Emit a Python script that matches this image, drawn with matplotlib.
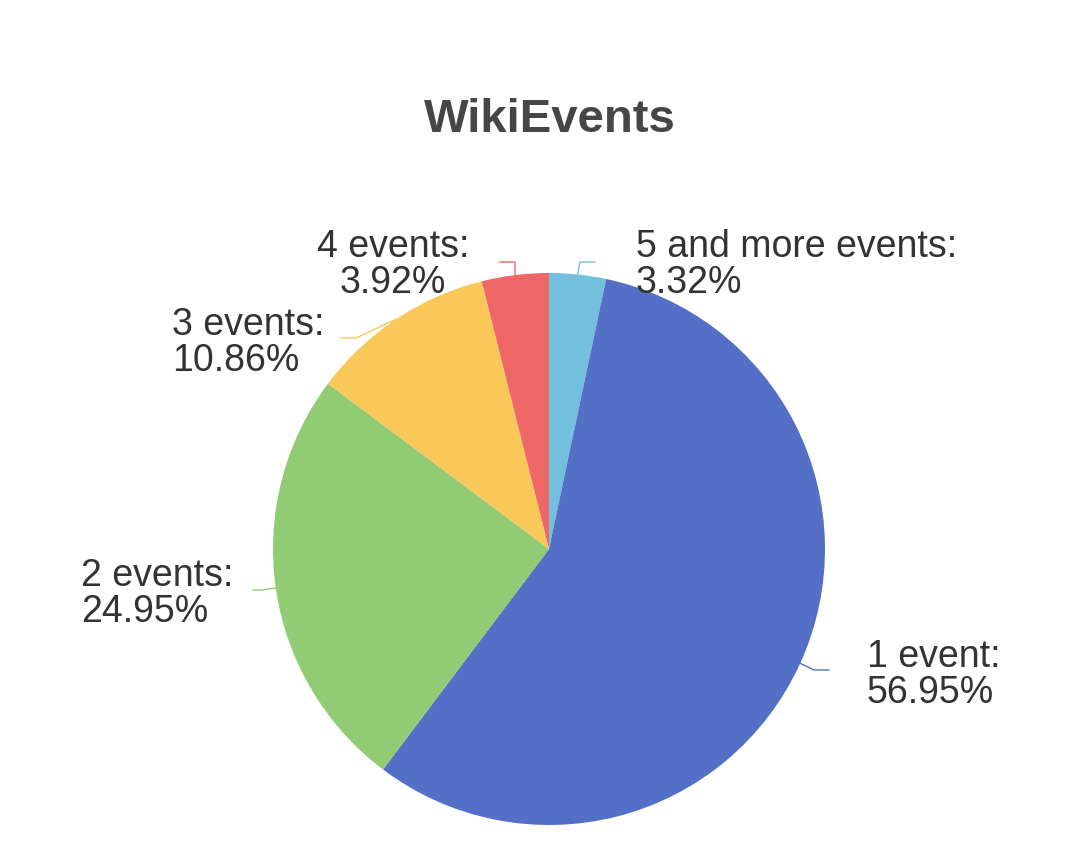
import numpy as np
import matplotlib.pyplot as plt

# Data (clockwise from 12 o'clock)
labels = ['5 and more events', '1 event', '2 events', '3 events', '4 events']
shares = [3.32, 56.95, 24.95, 10.86, 3.92]
colors = ['#73c0de', '#5470c6', '#91cc75', '#fac858', '#ee6666']

# label layout in pixels (top-left origin): elbow, end of leader, text anchor, alignment
elbows = [(580, 262), (814, 670), (262, 590), (356, 338), (515, 262)]
line_ends = [(595, 262), (829, 670), (253, 590), (341, 338), (500, 262)]
text_pos = [(636, 265), (867, 675), (81, 594), (172, 343), (393, 265)]
text_align = ['left', 'left', 'left', 'left', 'center']

W, H = 1086, 866
cx, cy, r = 549, 549, 276

fig = plt.figure(figsize=(W / 100, H / 100), dpi=100)
ax = fig.add_axes([0, 0, 1, 1])

wedges, _ = ax.pie(shares, colors=colors, startangle=90, counterclock=False,
                   center=(cx, H - cy), radius=r, frame=True,
                   wedgeprops=dict(linewidth=0))
ax.set_xlim(0, W)
ax.set_ylim(0, H)
ax.set_aspect('equal')
ax.axis('off')

for w, lab, val, col, el, le, tp, al in zip(wedges, labels, shares, colors,
                                            elbows, line_ends, text_pos, text_align):
    mid = np.deg2rad((w.theta1 + w.theta2) / 2)
    ex, ey = cx + r * np.cos(mid), (H - cy) + r * np.sin(mid)
    ax.plot([ex, el[0], le[0]], [ey, H - el[1], H - le[1]], color=col, lw=1)
    ax.text(tp[0], H - tp[1], f'{lab}:\n{val:.2f}%', ha=al, va='center',
            multialignment=al, fontsize=27, color='#333333',
            family='Liberation Sans', linespacing=0.97)

ax.text(550, H - 120, 'WikiEvents', ha='center', va='center', fontsize=34,
        fontweight='bold', color='#464646', family='Liberation Sans')

fig.savefig('out.png', dpi=100)
